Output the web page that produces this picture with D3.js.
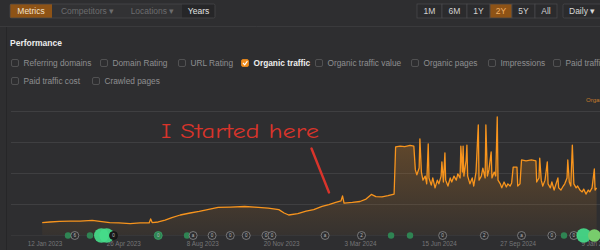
<!DOCTYPE html>
<html>
<head>
<meta charset="utf-8">
<script src="https://cdn.jsdelivr.net/npm/d3@7"></script>
<style>
  body { margin: 0; background: #2e2e30; overflow: hidden; }
  svg { display: block; font-family: "Liberation Sans", Arial, sans-serif; }
</style>
</head>
<body>
<div id="chart"></div>
<script>
const width = 600;
const height = 250;

// daily organic traffic (day offset from 9 Jan 2023)
const startDate = new Date(2023, 0, 9);
const days = [0, 10, 23, 37, 50, 66, 76, 89, 101, 116, 129, 141, 143, 145, 153, 162, 171, 182, 195, 207,
  218, 232, 248, 267, 285, 298, 312, 319, 325, 337, 348, 358, 369, 378, 387, 394, 396, 398, 409, 419,
  427, 434, 440, 448, 456, 464, 466, 472, 478, 485, 490, 492, 494, 497, 498, 500, 502, 505, 507, 509,
  510, 513, 515, 518, 521, 523, 526, 527, 529, 531, 532, 535, 538, 540, 543, 546, 548, 551, 552, 554,
  555, 556, 559, 560, 561, 564, 567, 569, 572, 575, 576, 579, 581, 584, 585, 587, 589, 592, 593, 596,
  598, 600, 601, 604, 606, 609, 612, 614, 617, 619, 621, 626, 627, 630, 632, 638, 645, 651, 652, 655,
  656, 658, 660, 663, 666, 667, 670, 672, 675, 677, 680, 681, 684, 687, 689, 692, 693, 695, 697, 699,
  701, 704, 706, 709, 712, 714, 717, 720, 722, 725, 728, 729, 731];
const traffic = [400, 420, 440, 450, 450, 470, 440, 400, 390, 370, 390, 390, 520, 400, 420, 480, 560, 645, 710, 760,
  820, 890, 900, 920, 890, 870, 820, 710, 645, 690, 770, 820, 920, 980, 1050, 1100, 1260, 1030, 1050, 1080,
  1160, 1310, 1240, 1230, 1270, 1320, 2840, 2870, 2850, 2890, 2870, 2100, 1940, 2160, 3100, 2030, 1770, 1900, 1650, 2940,
  1840, 1610, 1840, 1520, 1770, 1650, 1900, 2360, 1710, 2650, 1770, 1580, 1840, 1710, 1900, 1770, 1970, 1840, 2870, 2030,
  2870, 1900, 2420, 2900, 1900, 1650, 1840, 1580, 2030, 3550, 1770, 1900, 2160, 1840, 3550, 1900, 2100, 2680, 1840, 2030,
  1900, 3810, 1770, 1650, 1520, 1710, 1550, 1650, 1580, 1680, 2190, 2190, 1580, 1650, 2420, 2390, 2420, 2390, 1710, 1840,
  2480, 1770, 1580, 1770, 2360, 1650, 1520, 1710, 1450, 1610, 1840, 1520, 1450, 1580, 1650, 1840, 2420, 1710, 1580, 2900,
  1650, 1520, 1580, 1450, 1390, 1480, 1320, 1450, 1390, 1520, 2130, 1450, 1520];

const tickDates = ["2023-01-12", "2023-04-26", "2023-08-08", "2023-11-20", "2024-03-03", "2024-06-15", "2024-09-27", "2025-01-09"];
const yTicks = [0, 1000, 2000, 3000, 4000];

// annotation markers under the chart
const eventDays = [34, 43, 63, 78, 85, 94, 153, 191, 199, 224, 248, 269, 295, 303, 373, 421, 460, 485, 528, 583, 632, 672, 688, 701, 714, 728];
const eventKinds = ["dot", "num", "dot", "big", "big", "dark", "gnum", "dot", "num", "num", "num", "num", "num", "num", "num", "num", "dot", "dot", "num", "num", "num", "num", "dot", "num", "big", "big2"];
const eventLabels = ["", "6", "", "", "", "0", "0", "", "a", "0", "0", "0", "0", "0", "a", "2", "", "", "0", "2", "a", "0", "", "0", "", ""];

const leftButtons = ["Metrics", "Competitors ▾", "Locations ▾", "Years"];
const rangeButtons = ["1M", "6M", "1Y", "2Y", "5Y", "All"];
const metricsRow1 = ["Referring domains", "Domain Rating", "URL Rating", "Organic traffic", "Organic traffic value", "Organic pages", "Impressions", "Paid traffic"];
const metricsRow2 = ["Paid traffic cost", "Crawled pages"];

const svg = d3.select("#chart")
    .append("svg")
    .attr("width", width)
    .attr("height", height);

svg.append("rect").attr("width", width).attr("height", height).attr("fill", "#2e2e30");
svg.append("line").attr("x1", 6.5).attr("x2", 6.5).attr("y1", 27).attr("y2", height)
    .attr("stroke", "#262628").attr("stroke-width", 1);

// ---- top toolbar ----
const leftEdges = [10, 52, 123, 182, 215];
const leftFill = ["#8e5316", "#323234", "#323234", "#262628"];
const leftText = ["#f3e2cc", "#6c6c6e", "#6c6c6e", "#e2e2e2"];
leftButtons.forEach((b, i) => {
    svg.append("rect")
        .attr("x", leftEdges[i]).attr("y", 4)
        .attr("width", leftEdges[i + 1] - leftEdges[i]).attr("height", 14)
        .attr("fill", leftFill[i]);
    svg.append("text")
        .attr("x", (leftEdges[i] + leftEdges[i + 1]) / 2).attr("y", 14)
        .attr("text-anchor", "middle").attr("font-size", 8.5)
        .attr("fill", leftText[i]).text(b);
});
svg.append("rect").attr("x", 10).attr("y", 4).attr("width", 205).attr("height", 14).attr("rx", 1.5)
    .attr("fill", "none").attr("stroke", "#48484a").attr("stroke-width", 0.8);

const rangeEdges = [417, 442, 467, 490, 512, 535, 557];
rangeButtons.forEach((b, i) => {
    const active = b === "2Y";
    svg.append("rect")
        .attr("x", rangeEdges[i]).attr("y", 4)
        .attr("width", rangeEdges[i + 1] - rangeEdges[i]).attr("height", 14)
        .attr("fill", active ? "#8e5316" : "#2b2b2d")
        .attr("stroke", "#48484a").attr("stroke-width", 0.8);
    svg.append("text")
        .attr("x", (rangeEdges[i] + rangeEdges[i + 1]) / 2).attr("y", 14)
        .attr("text-anchor", "middle").attr("font-size", 8.5)
        .attr("fill", active ? "#f2b266" : "#d2d2d2").text(b);
});
svg.append("rect").attr("x", 563).attr("y", 4).attr("width", 42).attr("height", 14).attr("rx", 1.5)
    .attr("fill", "#2b2b2d").attr("stroke", "#48484a").attr("stroke-width", 0.8);
svg.append("text").attr("x", 569).attr("y", 14).attr("font-size", 8.5).attr("fill", "#d8d8d8").text("Daily ▾");

svg.append("line").attr("x1", 0).attr("x2", width).attr("y1", 26.5).attr("y2", 26.5)
    .attr("stroke", "#3a3a3c").attr("stroke-width", 1);

// ---- metric checkboxes ----
svg.append("text").attr("x", 10).attr("y", 46).attr("font-size", 8.5).attr("font-weight", "bold")
    .attr("fill", "#ececec").text("Performance");

const row1X = [11, 100, 178, 241, 315, 411, 488, 553];
const row2X = [11, 92];
function checkbox(xb, yc, label) {
    const on = label === "Organic traffic";
    svg.append("rect").attr("x", xb + 0.5).attr("y", yc - 3.5).attr("width", 7).attr("height", 7).attr("rx", 1.5)
        .attr("fill", on ? "#f08c1c" : "none").attr("stroke", on ? "#f08c1c" : "#5a5a5c").attr("stroke-width", 0.8);
    if (on) {
        svg.append("path").attr("d", `M${xb + 2},${yc} L${xb + 3.7},${yc + 1.8} L${xb + 6.4},${yc - 1.8}`)
            .attr("fill", "none").attr("stroke", "#fff").attr("stroke-width", 1.1);
    }
    svg.append("text").attr("x", xb + 12.5).attr("y", yc + 3).attr("font-size", 8.3)
        .attr("fill", on ? "#eeeeee" : "#8e8e90").attr("font-weight", on ? "bold" : null).text(label);
}
metricsRow1.forEach((m, i) => checkbox(row1X[i], 63, m));
metricsRow2.forEach((m, i) => checkbox(row2X[i], 81, m));

// ---- chart ----
const parse = d3.timeParse("%Y-%m-%d");
const series = days.map((d, i) => ({ date: d3.timeDay.offset(startDate, d), value: traffic[i] }));

const x = d3.scaleTime()
    .domain([startDate, d3.timeDay.offset(startDate, 731)])
    .range([42.2, 596.6]);
const y = d3.scaleLinear().domain([0, 4000]).range([235, 111]);

svg.append("g").selectAll("line")
    .data(yTicks.slice(1))
    .enter().append("line")
    .attr("x1", 11).attr("x2", width)
    .attr("y1", d => y(d) + 0.5).attr("y2", d => y(d) + 0.5)
    .attr("stroke", "#3f3f41").attr("stroke-width", 1);

svg.append("text").attr("x", 586).attr("y", 102).attr("font-size", 6).attr("fill", "#c57a2c").text("Organic traffic");

const grad = svg.append("defs").append("linearGradient")
    .attr("id", "fillGrad").attr("gradientUnits", "userSpaceOnUse")
    .attr("x1", 0).attr("x2", 0).attr("y1", y(4000)).attr("y2", y(0));
grad.append("stop").attr("offset", 0).attr("stop-color", "#f7931e").attr("stop-opacity", 0.32);
grad.append("stop").attr("offset", 1).attr("stop-color", "#f7931e").attr("stop-opacity", 0.04);

svg.append("path")
    .datum(series)
    .attr("fill", "url(#fillGrad)")
    .attr("d", d3.area().x(d => x(d.date)).y0(y(0)).y1(d => y(d.value)));

svg.append("path")
    .datum(series)
    .attr("fill", "none")
    .attr("stroke", "#f7941d")
    .attr("stroke-width", 1.3)
    .attr("stroke-linejoin", "round")
    .attr("d", d3.line().x(d => x(d.date)).y(d => y(d.value)));

// x axis
const xAxis = svg.append("g")
    .attr("transform", "translate(0,240)")
    .call(d3.axisBottom(x)
        .tickValues(tickDates.map(parse))
        .tickSize(0).tickPadding(2)
        .tickFormat(d3.timeFormat("%-d %b %Y")));
xAxis.select(".domain").remove();
xAxis.selectAll("text").attr("font-size", 6.3).attr("fill", "#767678")
    .attr("font-family", "\"Liberation Sans\", Arial, sans-serif");

// event markers row
svg.append("line").attr("x1", 11).attr("x2", width).attr("y1", 235.5).attr("y2", 235.5)
    .attr("stroke", "#3a3a3c").attr("stroke-width", 0.8);
const ev = svg.append("g");
eventDays.forEach((d, i) => {
    const cx = x(d3.timeDay.offset(startDate, d));
    const kind = eventKinds[i];
    const g = ev.append("g").attr("transform", `translate(${cx},235.5)`);
    if (kind === "dot") {
        g.append("circle").attr("r", 3.2).attr("fill", "#2f8453");
    } else if (kind === "big") {
        g.append("circle").attr("r", 7.3).attr("fill", "#45dc8a").attr("opacity", 0.92);
    } else if (kind === "big2") {
        g.append("circle").attr("r", 6.3).attr("fill", "#78cc6c");
    } else {
        const fill = kind === "dark" ? "#1a1a1a" : kind === "gnum" ? "#2f8453" : "#2e2e30";
        const stroke = kind === "dark" ? "#111" : kind === "gnum" ? "#3aa066" : "#8a8a8c";
        g.append("circle").attr("r", 4).attr("fill", fill).attr("stroke", stroke).attr("stroke-width", 0.8);
        g.append("text").attr("y", 1.6).attr("text-anchor", "middle").attr("font-size", 4.6)
            .attr("fill", "#b8b8ba").text(eventLabels[i]);
    }
});

// hand-drawn note
svg.append("text")
    .attr("x", 161).attr("y", 137.5)
    .attr("font-family", "\"Comic Sans MS\", \"Comic Neue\", \"DejaVu Sans\", sans-serif")
    .attr("font-size", 21)
    .attr("textLength", 158).attr("lengthAdjust", "spacingAndGlyphs")
    .attr("fill", "#d9342b")
    .text("I Started here");
svg.append("line")
    .attr("x1", 311.5).attr("y1", 148.5).attr("x2", 329).attr("y2", 192.5)
    .attr("stroke", "#d9342b").attr("stroke-width", 2.4).attr("stroke-linecap", "round");
</script>
</body>
</html>
